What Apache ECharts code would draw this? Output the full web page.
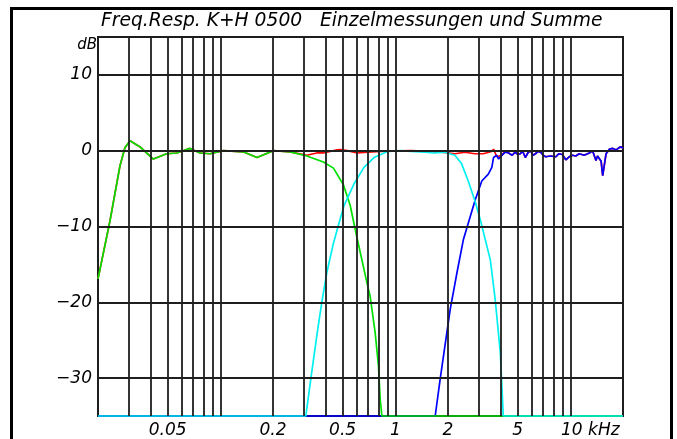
<!DOCTYPE html>
<html><head><meta charset="utf-8">
<script src="https://cdn.jsdelivr.net/npm/echarts@6/dist/echarts.min.js"></script>
<style>html,body{margin:0;padding:0;background:#fff}#c{width:677px;height:439px}</style>
</head><body><div id="c"></div>
<script>
// frequencies in kHz, levels in dB
const titleText = 'Freq.Resp. K+H 0500   Einzelmessungen und Summe';
const xTickValues = [0.05, 0.2, 0.5, 1, 2, 5, 10];
const xTickLabels = ['0.05', '0.2', '0.5', '1', '2', '5', '10 kHz'];
const yTickValues = [10, 0, -10, -20, -30];
const xGridValues = [0.03,0.04,0.05,0.06,0.07,0.08,0.09,0.1,0.2,0.3,0.4,0.5,0.6,0.7,0.8,0.9,1,2,3,4,5,6,7,8,9,10];
const yGridValues = [10, 0, -10, -20, -30];

const greenF  = [0.02,0.0234,0.0267,0.0285,0.0305,0.0348,0.0414,0.0494,0.0564,0.0671,0.0766,0.0874,0.104,0.135,0.162,0.201,0.251,0.312,0.388,0.443,0.505,0.552,0.59,0.688,0.718,0.767,0.801,0.819,0.838,20];
const greenDb = [-16.9,-9.3,-2,0.4,1.3,0.5,-1.1,-0.4,-0.3,0.3,-0.3,-0.4,0,-0.15,-0.9,0,-0.15,-0.7,-1.5,-2.3,-4.5,-7.2,-10.4,-17.4,-19.2,-24,-28.4,-32.7,-35,-35];

const cyanF  = [0.02,0.308,0.333,0.356,0.380,0.406,0.443,0.484,0.51,0.580,0.662,0.756,0.903,1.077,1.23,1.468,1.677,1.915,2.19,2.39,2.61,2.85,3.06,3.49,3.72,3.98,4.14,20];
const cyanDb = [-35,-35,-29.2,-24.4,-20,-16.1,-12.2,-9,-7.2,-4.4,-2.2,-0.9,-0.1,0,-0.1,-0.2,-0.3,-0.2,-0.6,-1.7,-4.0,-6.6,-9.1,-14.4,-19.6,-26.6,-35,-35];

const blueF  = [0.02,1.69,1.805,1.97,2.06,2.25,2.45,2.67,2.86,3.12,3.40,3.56,3.64,3.80,3.89,4.06,4.25,4.44,4.65,4.84,5.0,5.18,5.35,5.53,5.72,5.92,6.12,6.32,6.55,6.76,7.0,7.22,7.7,8.25,8.61,9.0,9.42,9.85,10.29,10.75,11.24,12.0,12.83,13.40,14.01,14.3,14.64,15.0,15.31,16.01,16.72,17.5,18.29,19.0,19.53,20];
const blueDb = [-35,-35,-30.1,-24,-20.9,-16.1,-11.7,-8.8,-6.5,-4.0,-3.1,-2.2,-0.9,-0.6,-1.1,-0.6,-0.2,-0.3,-0.6,-0.2,-0.5,-0.4,-0.1,-0.9,-0.3,0,-0.6,-0.4,-0.1,-0.2,-0.6,-0.8,-0.7,-0.8,-0.4,-0.5,-1.2,-0.8,-0.6,-0.7,-0.4,-0.6,-0.3,0,-1.3,-0.7,-0.9,-1.4,-3.3,-0.4,0.2,0.3,0.1,0.4,0.5,0.3];

const redF  = [0.02,0.0234,0.0267,0.0285,0.0305,0.0348,0.0414,0.0494,0.0564,0.0671,0.0766,0.0874,0.104,0.135,0.162,0.201,0.251,0.312,0.356,0.388,0.465,0.484,0.531,0.605,0.692,0.826,1.23,1.83,2.19,2.50,2.85,3.18,3.55,3.64,3.80,4.06,4.25,4.44,4.65,4.84,5.0,5.18,5.35,5.53,5.72,5.92,6.12,6.32,6.55,6.76,7.0,7.22,7.7,8.25,8.61,9.0,9.42,9.85,10.29,10.75,11.24,12.0,12.83,13.40,14.01,14.3,14.64,15.0,15.31,16.01,16.72,17.5,18.29,19.0,19.53,20];
const redDb = [-16.9,-9.3,-2,0.4,1.3,0.5,-1.1,-0.4,-0.3,0.3,-0.3,-0.4,0,-0.15,-0.9,0,-0.15,-0.6,-0.3,-0.3,0.1,0.15,0,-0.3,-0.2,-0.1,0,-0.2,-0.4,-0.2,-0.4,-0.4,-0.1,0.2,-0.8,-0.6,0,-0.3,-0.6,-0.2,-0.5,-0.4,-0.1,-0.9,-0.3,0,-0.6,-0.4,-0.1,-0.2,-0.6,-0.8,-0.7,-0.8,-0.4,-0.5,-1.2,-0.8,-0.6,-0.7,-0.4,-0.6,-0.3,0,-1.3,-0.7,-0.9,-1.4,-3.3,-0.4,0.2,0.3,0.1,0.4,0.5,0.3];

const zip = (a, b) => a.map((v, i) => [v, b[i]]);
const FONT = 'DejaVu Sans';
const chart = echarts.init(document.getElementById('c'), null, {renderer: 'canvas'});

function curve(name, f, db, color) {
  return {
    name, type: 'line', data: zip(f, db), showSymbol: false, clip: false,
    lineStyle: {color, width: 1.7}, itemStyle: {color}, animation: false
  };
}

chart.setOption({
  backgroundColor: '#ffffff',
  animation: false,
  title: {
    text: titleText, left: 96, top: 7,
    textStyle: {fontFamily: FONT, fontStyle: 'italic', fontWeight: 'normal', fontSize: 18.7, color: '#000'}
  },
  graphic: [
    {type: 'rect', shape: {x: 11.5, y: 8.5, width: 660, height: 470}, style: {fill: 'none', stroke: '#000', lineWidth: 3}, silent: true},
    {type: 'text', x: 97, y: 45, style: {text: 'dB', fontFamily: FONT, fontStyle: 'italic', fontSize: 15, fill: '#000', align: 'right', verticalAlign: 'middle'}}
  ],
  grid: {left: 98, right: 54, top: 37, bottom: 23, show: true, borderColor: '#1e1e1e', borderWidth: 2, backgroundColor: 'transparent'},
  xAxis: {
    type: 'log', logBase: 10, min: 0.02, max: 20,
    axisLine: {show: false}, axisTick: {show: false}, splitLine: {show: false}, minorSplitLine: {show: false},
    axisLabel: {
      customValues: xTickValues, margin: 6,
      fontFamily: FONT, fontStyle: 'italic', fontSize: 17, color: '#000',
      formatter: function (v) {
        const i = xTickValues.indexOf(v);
        const t = i >= 0 ? xTickLabels[i] : String(v);
        return t.indexOf('kHz') >= 0 ? '{u|' + t + '}' : t;
      },
      rich: {u: {padding: [0, 0, 0, 40], fontFamily: FONT, fontStyle: 'italic', fontSize: 17, color: '#000'}}
    }
  },
  yAxis: {
    type: 'value', min: -35, max: 15,
    axisLine: {show: false}, axisTick: {show: false}, splitLine: {show: false},
    axisLabel: {
      customValues: yTickValues, margin: 6,
      fontFamily: FONT, fontStyle: 'italic', fontSize: 17, color: '#000',
      formatter: v => String(v).replace('-', '\u2212')
    }
  },
  series: [
    {
      name: 'grid', type: 'line', data: [], silent: true, animation: false,
      markLine: {
        silent: true, symbol: 'none', animation: false, label: {show: false},
        lineStyle: {color: '#1e1e1e', width: 1.8, type: 'solid'},
        data: xGridValues.map(v => ({xAxis: v})).concat(yGridValues.map(v => ({yAxis: v})))
      }
    },
    curve('Summe', redF, redDb, '#ff0000'),
    curve('Hochton', blueF, blueDb, '#0000ff'),
    curve('Tiefton', greenF, greenDb, '#00e000'),
    curve('Mittelton', cyanF, cyanDb, '#00f0f0')
  ]
});
</script></body></html>
